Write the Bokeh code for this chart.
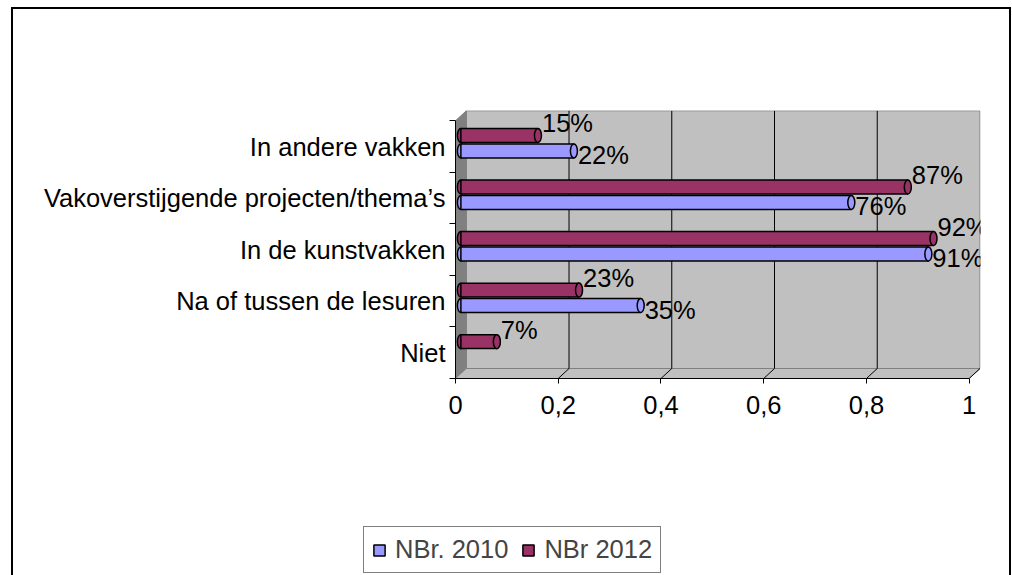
from bokeh.plotting import figure
from bokeh.layouts import column
from bokeh.models import Range1d, FixedTicker, ColumnDataSource, Legend, LegendItem
from bokeh.embed import file_html
from bokeh.resources import INLINE
from bokeh.core.properties import value

# ---- data ----
categories = ["In andere vakken", "Vakoverstijgende projecten/thema\u2019s",
              "In de kunstvakken", "Na of tussen de lesuren", "Niet"]
nbr_2010 = [0.22, 0.76, 0.91, 0.35, None]
nbr_2012 = [0.15, 0.87, 0.92, 0.23, 0.07]
series_names = ["NBr. 2010", "NBr 2012"]
x_ticks = [0, 0.2, 0.4, 0.6, 0.8, 1]
x_tick_labels = ["0", "0,2", "0,4", "0,6", "0,8", "1"]

# ---- style ----
FONT = "Liberation Sans"
FS = "25.5px"
BLUE = "#9999FF"
RED = "#993366"
WALL = "#C0C0C0"
SIDE = "#808080"
DX, DY = 0.021, 0.194          # 3-D depth offset in data units
BAR_H = 0.27
OFF_2012, OFF_2010 = 0.215, -0.085
W = 996

n = len(categories)
centers = [n - i - 0.5 for i in range(n)]

p = figure(width=W, height=431, output_backend="svg", toolbar_location=None,
           x_range=Range1d(0, 1 + DX + 0.001), y_range=Range1d(0, n + 0.2),
           min_border_left=442, min_border_right=W - 442 - 525, min_border_top=101,
           min_border_bottom=62)
p.frame_align = False
p.outline_line_color = None
p.xgrid.visible = False
p.ygrid.visible = False

# walls and floor
p.quad(left=DX, right=1 + DX, bottom=DY, top=n + DY, fill_color=WALL, line_color=SIDE)
p.patch([0, DX, DX, 0], [0, DY, n + DY, n], fill_color=SIDE, line_color=SIDE)
p.patch([0, 1, 1 + DX, DX], [0, 0, DY, DY], fill_color=WALL, line_color=SIDE)
inner = x_ticks[1:-1]
p.segment(x0=[t + DX for t in inner], y0=[DY] * len(inner),
          x1=[t + DX for t in inner], y1=[n + DY] * len(inner), line_color="black", line_width=1)
p.segment(x0=x_ticks[1:], y0=[0] * (len(x_ticks) - 1),
          x1=[t + DX for t in x_ticks[1:]], y1=[DY] * (len(x_ticks) - 1),
          line_color="black", line_width=1)


def make_source(vals, off):
    ys, lefts, rights, labels = [], [], [], []
    for c, v in zip(centers, vals):
        if v is None:
            continue
        ys.append(c + off)
        lefts.append(DX / 2)
        rights.append(v + DX / 2)
        labels.append(f"{round(v * 100)}%")
    return ColumnDataSource(dict(y=ys, left=lefts, right=rights, label=labels))


for vals, off, color, yoff in [(nbr_2010, OFF_2010, BLUE, 4), (nbr_2012, OFF_2012, RED, -12)]:
    src = make_source(vals, off)
    p.ellipse(x="left", y="y", width=7, height=14, width_units="screen", height_units="screen",
              source=src, fill_color=color, line_color="black", line_width=1.5)
    p.hbar(y="y", left="left", right="right", height=BAR_H, source=src,
           fill_color=color, line_color="black", line_width=1.5)
    p.ellipse(x="right", y="y", width=7, height=14, width_units="screen", height_units="screen",
              source=src, fill_color=color, line_color="black", line_width=1.5)
    p.text(x="right", y="y", text="label", source=src, x_offset=4, y_offset=yoff,
           text_baseline="middle", text_align="left", text_font=value(FONT),
           text_font_size=FS, text_color="black")

# axes
p.xaxis.ticker = FixedTicker(ticks=x_ticks)
p.xaxis.major_label_overrides = {t: l for t, l in zip(x_ticks, x_tick_labels)}
p.xaxis.bounds = (0, 1)
p.xaxis.major_tick_out = 5
p.xaxis.major_tick_in = 0
p.xaxis.minor_tick_line_color = None
p.xaxis.major_label_standoff = 12
p.xaxis.axis_line_color = "black"

p.yaxis.ticker = FixedTicker(ticks=centers, minor_ticks=list(range(n + 1)))
p.yaxis.major_label_overrides = {c: cat for c, cat in zip(centers, categories)}
p.yaxis.bounds = (0, n)
p.yaxis.major_tick_line_color = None
p.yaxis.major_tick_out = 0
p.yaxis.minor_tick_out = 6
p.yaxis.minor_tick_in = 0
p.yaxis.minor_tick_line_color = "black"
p.yaxis.major_label_standoff = 4

for ax in (p.xaxis, p.yaxis):
    ax.major_label_text_font = FONT
    ax.major_label_text_font_size = FS
    ax.major_label_text_color = "black"

# ---- legend strip (second figure in the same chart box) ----
q = figure(width=W, height=135, output_backend="svg", toolbar_location=None,
           x_range=Range1d(0, 1), y_range=Range1d(0, 1), x_axis_type=None, y_axis_type=None,
           min_border=0)
q.frame_align = False
q.outline_line_color = None
q.xgrid.visible = False
q.ygrid.visible = False
legend_renderers = []
for color in (BLUE, RED):
    # tiny dummy bars hidden behind the opaque legend box: only their swatches are seen
    legend_renderers.append(q.hbar(y=[0.17], left=[0.47], right=[0.49], height=0.04,
                                   fill_color=color, line_color="black", line_width=1.5))
legend = Legend(items=[LegendItem(label=name, renderers=[r])
                       for name, r in zip(series_names, legend_renderers)],
                location=(350, 2), orientation="horizontal",
                border_line_color="black", border_line_width=1.2,
                background_fill_color="white", background_fill_alpha=1.0,
                label_text_font=FONT, label_text_font_size=FS,
                glyph_width=14, glyph_height=14, label_standoff=9, spacing=13,
                padding=8, margin=0)
q.add_layout(legend, "center")

layout = column(p, q, spacing=0)
layout.styles = {"border": "2px solid black", "border-bottom": "none",
                 "margin-left": "11px", "margin-top": "7px"}

open("out.html", "w").write(file_html(layout, INLINE))
